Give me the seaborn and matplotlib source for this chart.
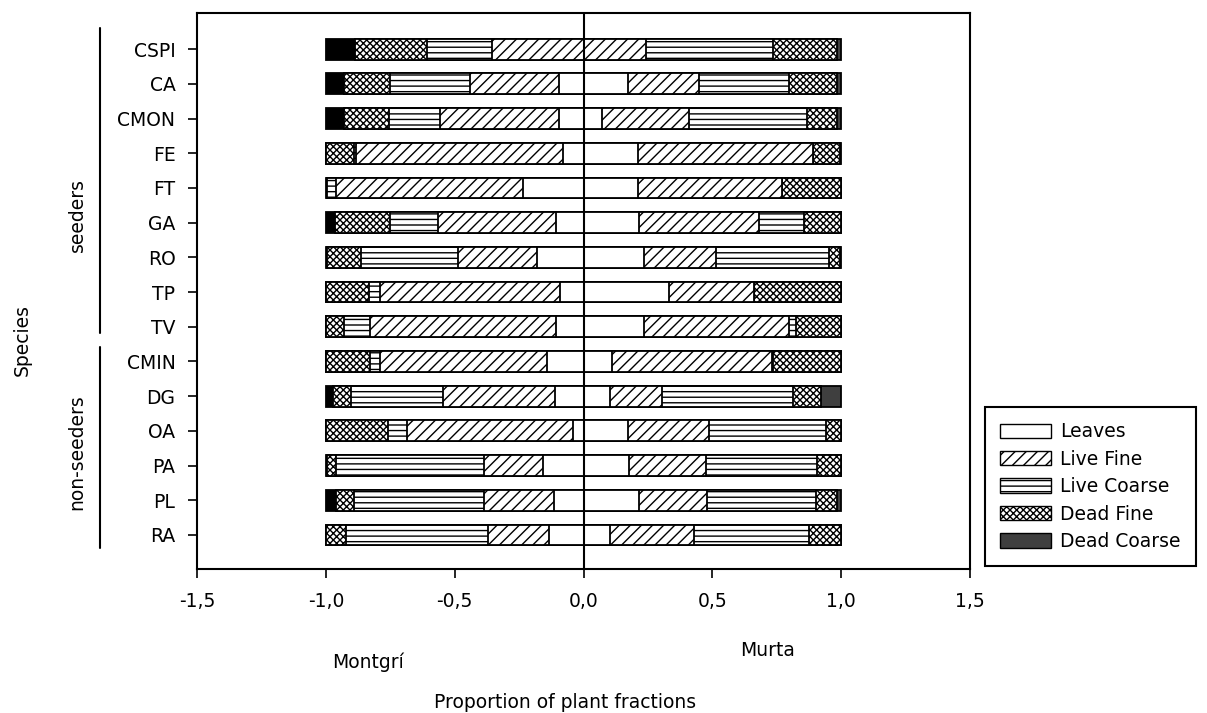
import matplotlib
matplotlib.use("Agg")
import matplotlib.pyplot as plt
import numpy as np
import pandas as pd
import seaborn as sns
from matplotlib.patches import Patch
from matplotlib.lines import Line2D
from matplotlib.ticker import FuncFormatter, FixedLocator

# ---------------- data ----------------
species = ["CSPI", "CA", "CMON", "FE", "FT", "GA", "RO", "TP", "TV",
           "CMIN", "DG", "OA", "PA", "PL", "RA"]
fractions = ["Leaves", "Live Fine", "Live Coarse", "Dead Fine", "Dead Coarse"]

# Montgrí (plotted to the left, as negative proportions)
montgri_leaves      = [0.000, 0.097, 0.097, 0.078, 0.233, 0.105, 0.182, 0.093, 0.105, 0.143, 0.112, 0.039, 0.159, 0.116, 0.132]
montgri_live_fine   = [0.357, 0.345, 0.461, 0.806, 0.729, 0.461, 0.306, 0.698, 0.725, 0.647, 0.434, 0.647, 0.229, 0.271, 0.240]
montgri_live_coarse = [0.252, 0.310, 0.198, 0.007, 0.033, 0.186, 0.376, 0.043, 0.101, 0.039, 0.357, 0.074, 0.574, 0.504, 0.550]
montgri_dead_fine   = [0.279, 0.178, 0.174, 0.109, 0.000, 0.213, 0.130, 0.166, 0.069, 0.171, 0.070, 0.240, 0.033, 0.070, 0.078]
montgri_dead_coarse = [0.112, 0.070, 0.070, 0.000, 0.005, 0.035, 0.006, 0.000, 0.000, 0.000, 0.027, 0.000, 0.005, 0.039, 0.000]

# Murta (plotted to the right)
murta_leaves      = [0.000, 0.171, 0.070, 0.213, 0.213, 0.217, 0.233, 0.333, 0.233, 0.109, 0.101, 0.171, 0.178, 0.217, 0.101]
murta_live_fine   = [0.244, 0.279, 0.341, 0.678, 0.558, 0.465, 0.283, 0.329, 0.566, 0.624, 0.205, 0.318, 0.298, 0.264, 0.326]
murta_live_coarse = [0.492, 0.349, 0.457, 0.000, 0.000, 0.174, 0.438, 0.000, 0.027, 0.004, 0.508, 0.453, 0.430, 0.422, 0.450]
murta_dead_fine   = [0.248, 0.186, 0.116, 0.105, 0.229, 0.144, 0.040, 0.338, 0.174, 0.263, 0.109, 0.058, 0.094, 0.081, 0.123]
murta_dead_coarse = [0.016, 0.015, 0.016, 0.004, 0.000, 0.000, 0.006, 0.000, 0.000, 0.000, 0.077, 0.000, 0.000, 0.016, 0.000]

xticks = [-1.5, -1.0, -0.5, 0.0, 0.5, 1.0, 1.5]

# ---------------- style ----------------
W, H = 1207, 713
sns.set_style("ticks")
plt.rcParams["font.family"] = ["DejaVu Sans"]
plt.rcParams["text.color"] = "black"
plt.rcParams["hatch.linewidth"] = 1.0
FS = 13.5

fig = plt.figure(figsize=(W / 100, H / 100), dpi=100)
fig.patch.set_facecolor("white")
ax = fig.add_axes([197 / W, 1 - 569 / H, (970 - 197) / W, (569 - 13) / H])
ax.set_facecolor("white")

hatches = {
    "Leaves": None,
    "Live Fine": "///",
    "Live Coarse": "---",
    "Dead Fine": "xxxxx",
    "Dead Coarse": None,
}


def draw_side(parts, sign, dead_coarse_color):
    arr = np.array(parts)  # shape 5 x n
    cum = np.cumsum(arr, axis=0)
    # draw outermost first, inner segments on top
    for k in range(len(fractions) - 1, -1, -1):
        name = fractions[k]
        df = pd.DataFrame({"species": species, "value": sign * cum[k]})
        face = dead_coarse_color if name == "Dead Coarse" else "white"
        n0 = len(ax.patches)
        sns.barplot(data=df, x="value", y="species", order=species, orient="h",
                    color=face, saturation=1, width=0.6, errorbar=None,
                    edgecolor="black", linewidth=1.3, ax=ax)
        for p in ax.patches[n0:]:
            p.set_facecolor(face)
            p.set_edgecolor("black")
            if hatches[name]:
                p.set_hatch(hatches[name])


draw_side([montgri_leaves, montgri_live_fine, montgri_live_coarse,
           montgri_dead_fine, montgri_dead_coarse], -1, "black")
draw_side([murta_leaves, murta_live_fine, murta_live_coarse,
           murta_dead_fine, murta_dead_coarse], 1, "#3f3f3f")

ax.axvline(0, color="black", lw=1.5, zorder=10)

ax.set_xlim(-1.5, 1.5)
ax.set_ylim(len(species) - 1 + 0.98, -1.04)
ax.xaxis.set_major_locator(FixedLocator(xticks))
ax.xaxis.set_major_formatter(FuncFormatter(lambda v, p: f"{v:.1f}".replace(".", ",")))
ax.set_xlabel("")
ax.set_ylabel("")
ax.tick_params(axis="both", direction="out", length=6.5, width=1.2, colors="black",
               labelsize=FS)
ax.tick_params(axis="y", pad=9)
ax.tick_params(axis="x", pad=10)
for s in ax.spines.values():
    s.set_visible(True)
    s.set_color("black")
    s.set_linewidth(1.5)


def ftext(x, y, s, **kw):
    fig.text(x / W, 1 - y / H, s, fontsize=FS, color="black", ha="center", va="center", **kw)


ftext(368, 662, "Montgrí")
ftext(768, 650, "Murta")
ftext(565, 702, "Proportion of plant fractions")
ftext(22, 340, "Species", rotation=90)
ftext(77, 215, "seeders", rotation=90)
ftext(77, 452, "non-seeders", rotation=90)

fig.add_artist(Line2D([100 / W, 100 / W], [1 - 28 / H, 1 - 333 / H], color="black", lw=1.5))
fig.add_artist(Line2D([100 / W, 100 / W], [1 - 347 / H, 1 - 548 / H], color="black", lw=1.5))

handles = [
    Patch(facecolor="white", edgecolor="black", label="Leaves"),
    Patch(facecolor="white", edgecolor="black", hatch=hatches["Live Fine"], label="Live Fine"),
    Patch(facecolor="white", edgecolor="black", hatch=hatches["Live Coarse"], label="Live Coarse"),
    Patch(facecolor="white", edgecolor="black", hatch=hatches["Dead Fine"], label="Dead Fine"),
    Patch(facecolor="#3f3f3f", edgecolor="black", label="Dead Coarse"),
]
leg = fig.legend(handles=handles, loc="lower left",
                 bbox_to_anchor=(985 / W, 1 - 566 / H),
                 frameon=True, fancybox=False, edgecolor="black", framealpha=1,
                 fontsize=FS, handlelength=2.7, handleheight=0.8,
                 labelspacing=0.45, borderpad=0.8, handletextpad=0.5,
                 borderaxespad=0, labelcolor="black")
leg.get_frame().set_linewidth(1.5)

fig.savefig("out.png", dpi=100, facecolor="white")
